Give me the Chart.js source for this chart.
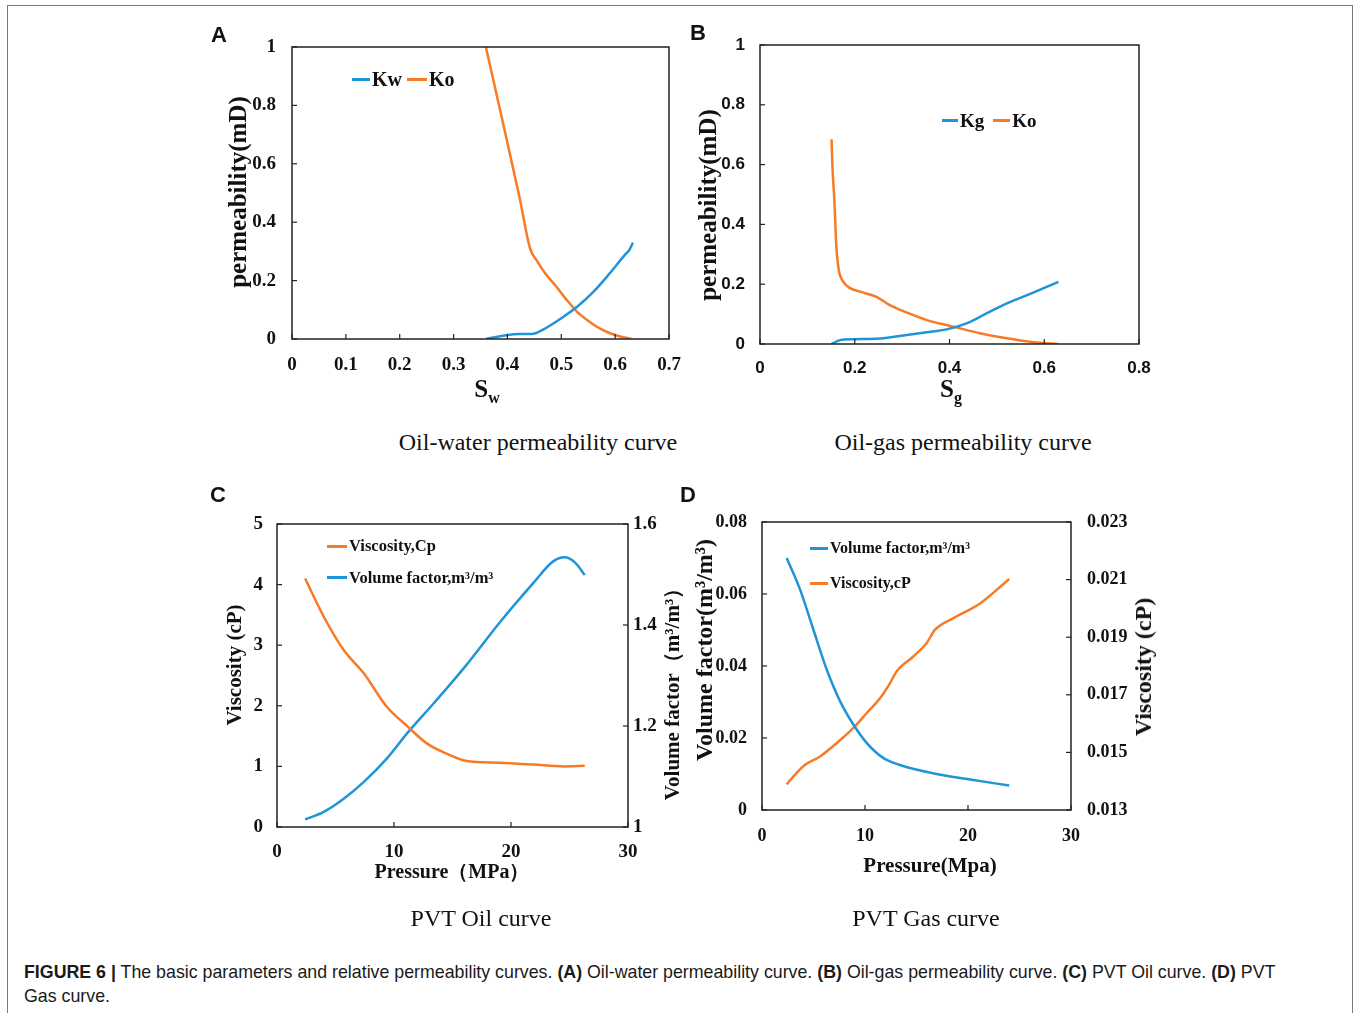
<!DOCTYPE html>
<html>
<head>
<meta charset="utf-8">
<script src="https://cdn.jsdelivr.net/npm/chart.js@4.4.1/dist/chart.umd.min.js"></script>
<style>
    body {
        margin: 0;
        width: 1356px;
        height: 1013px;
        background: #fff;
        position: relative;
        overflow: hidden;
        font-family: "Liberation Serif", serif;
        color: #111;
    }

    .frame {
        position: absolute;
        left: 7px;
        top: 5px;
        width: 1344px;
        height: 1100px;
        border: 1.5px solid #7a7a7a;
    }

    canvas {
        position: absolute;
    }

    .t {
        position: absolute;
        white-space: nowrap;
        line-height: 1;
        transform: translate(-50%, -50%);
    }

    .v {
        transform: translate(-50%, -50%) rotate(-90deg);
    }

    .bold {
        font-weight: bold;
    }

    .letter {
        font-family: "Liberation Sans", sans-serif;
        font-weight: bold;
        font-size: 22px;
    }

    .sub {
        font-size: 24px;
    }

    .legend {
        position: absolute;
        white-space: nowrap;
        font-weight: bold;
        line-height: 1;
    }

    .legend .item {
        display: flex;
        align-items: center;
    }

    .legend .sw {
        display: inline-block;
        height: 3px;
        margin-right: 2px;
    }

    .caption {
        position: absolute;
        left: 24px;
        top: 960px;
        font-family: "Liberation Sans", sans-serif;
        font-size: 17.8px;
        line-height: 24px;
        color: #1a1a1a;
        white-space: nowrap;
    }
</style>
</head>
<body>
<div class="frame"></div>

<canvas id="chart-a"></canvas>
<canvas id="chart-b"></canvas>
<canvas id="chart-c"></canvas>
<canvas id="chart-d"></canvas>

<div class="t letter" style="left:219px; top:35px">A</div>
<div class="t letter" style="left:698px; top:33px">B</div>
<div class="t letter" style="left:218px; top:495px">C</div>
<div class="t letter" style="left:688px; top:495px">D</div>

<div class="t v bold" style="left:237px; top:192px; font-size:25px">permeability(mD)</div>
<div class="t bold" style="left:487px; top:391px; font-size:25px">S<sub style="font-size:16px; vertical-align:-6px">w</sub></div>
<div class="t sub" style="left:538px; top:442px">Oil-water permeability curve</div>

<div class="t v bold" style="left:707px; top:205px; font-size:25px">permeability(mD)</div>
<div class="t bold" style="left:951px; top:391px; font-size:25px">S<sub style="font-size:16px; vertical-align:-6px">g</sub></div>
<div class="t sub" style="left:963px; top:442px">Oil-gas permeability curve</div>

<div class="t v bold" style="left:234px; top:665px; font-size:21px">Viscosity (cP)</div>
<div class="t v bold" style="left:672px; top:689px; font-size:21px">Volume factor（m³/m³）</div>
<div class="t bold" style="left:452px; top:871px; font-size:20px">Pressure（MPa）</div>
<div class="t sub" style="left:481px; top:918px">PVT Oil curve</div>

<div class="t v bold" style="left:704px; top:650px; font-size:24px">Volume factor(m³/m³)</div>
<div class="t v bold" style="left:1143px; top:667px; font-size:24px">Viscosity (cP)</div>
<div class="t bold" style="left:930px; top:865px; font-size:21px">Pressure(Mpa)</div>
<div class="t sub" style="left:926px; top:918px">PVT Gas curve</div>

<div class="caption"><b>FIGURE 6 |</b> The basic parameters and relative permeability curves. <b>(A)</b> Oil-water permeability curve. <b>(B)</b> Oil-gas permeability curve. <b>(C)</b> PVT Oil curve. <b>(D)</b> PVT<br>Gas curve.</div>

<script>
const BLUE = "#1f95d8";
const ORANGE = "#f77b26";

// A: oil-water relative permeability
const a_sw_kw = [0.36, 0.40, 0.423, 0.445, 0.467, 0.50, 0.53, 0.56, 0.59, 0.618, 0.627, 0.633];
const a_kw = [0, 0.014, 0.017, 0.017, 0.033, 0.071, 0.111, 0.162, 0.225, 0.288, 0.307, 0.33];
const a_sw_ko = [0.36, 0.399, 0.423, 0.442, 0.454, 0.47, 0.491, 0.51, 0.529, 0.548, 0.566, 0.585, 0.603, 0.62, 0.632];
const a_ko = [1.0, 0.68, 0.48, 0.31, 0.27, 0.225, 0.179, 0.134, 0.094, 0.065, 0.042, 0.024, 0.012, 0.004, 0];
const a_x_ticks = [0, 0.1, 0.2, 0.3, 0.4, 0.5, 0.6, 0.7];
const a_y_ticks = [0, 0.2, 0.4, 0.6, 0.8, 1];

// B: oil-gas relative permeability
const b_sg_kg = [0.151, 0.169, 0.197, 0.253, 0.31, 0.352, 0.394, 0.436, 0.479, 0.521, 0.577, 0.63];
const b_kg = [0, 0.013, 0.016, 0.018, 0.030, 0.039, 0.049, 0.069, 0.103, 0.136, 0.172, 0.208];
const b_sg_ko = [0.151, 0.153, 0.157, 0.161, 0.166, 0.175, 0.19, 0.211, 0.246, 0.274, 0.31, 0.352, 0.408, 0.464, 0.521, 0.577, 0.63];
const b_ko = [0.685, 0.59, 0.48, 0.33, 0.25, 0.21, 0.187, 0.175, 0.158, 0.13, 0.105, 0.08, 0.058, 0.036, 0.019, 0.006, 0];
const b_x_ticks = [0, 0.2, 0.4, 0.6, 0.8];
const b_y_ticks = [0, 0.2, 0.4, 0.6, 0.8, 1];

// C: PVT oil
const c_p_mu = [2.4, 4.0, 5.7, 7.4, 9.4, 11.1, 12.8, 14.5, 16.2, 19.0, 21.9, 24.5, 26.3];
const c_mu = [4.10, 3.47, 2.92, 2.54, 1.98, 1.67, 1.38, 1.21, 1.09, 1.06, 1.03, 1.00, 1.01];
const c_p_bo = [2.4, 4.0, 5.7, 7.4, 9.4, 11.1, 13.4, 16.2, 19.0, 21.9, 23.6, 24.6, 25.5, 26.3];
const c_bo = [1.015, 1.030, 1.056, 1.089, 1.136, 1.185, 1.245, 1.321, 1.404, 1.483, 1.526, 1.534, 1.523, 1.499];
const c_x_ticks = [0, 10, 20, 30];
const c_y_ticks = [0, 1, 2, 3, 4, 5];
const c_y2_ticks = [1, 1.2, 1.4, 1.6];

// D: PVT gas
const d_p_bg = [2.4, 3.7, 5.0, 6.3, 7.6, 8.9, 10.2, 11.8, 13.4, 16.6, 19.9, 24.0];
const d_bg = [0.070, 0.0612, 0.050, 0.0389, 0.0301, 0.0236, 0.0185, 0.0144, 0.0125, 0.0102, 0.0086, 0.0068];
const d_p_mu = [2.4, 3.35, 4.15, 5.6, 7.24, 8.85, 10.15, 11.45, 12.42, 13.07, 14.69, 15.99, 16.8, 18.58, 21.2, 24.0];
const d_mu = [0.01389, 0.01428, 0.01456, 0.01485, 0.01532, 0.01584, 0.01636, 0.01688, 0.0174, 0.01781, 0.01833, 0.0188, 0.01926, 0.01966, 0.02018, 0.02102];
const d_x_ticks = [0, 10, 20, 30];
const d_y_ticks = [0, 0.02, 0.04, 0.06, 0.08];
const d_y2_ticks = [0.013, 0.015, 0.017, 0.019, 0.021, 0.023];

const serif_ticks = {family: "Liberation Serif", weight: "bold", size: 19};
const serif_ticks_d = {family: "Liberation Serif", weight: "bold", size: 18};
const sans_ticks = {family: "Liberation Sans", weight: "bold", size: 17};

function zip(xs, ys) {
    return xs.map((x, i) => ({x: x, y: ys[i]}));
}

function line(label, xs, ys, color, axis) {
    return {
        label: label,
        data: zip(xs, ys),
        borderColor: color,
        backgroundColor: color,
        borderWidth: 2.5,
        pointRadius: 0,
        cubicInterpolationMode: "monotone",
        yAxisID: axis || "y"
    };
}

function axis(ticks, pos, font, pad) {
    return {
        type: "linear",
        position: pos,
        min: ticks[0],
        max: ticks[ticks.length - 1],
        grid: {display: false, drawTicks: false},
        border: {display: false},
        afterBuildTicks: s => { s.ticks = ticks.map(v => ({value: v})); },
        afterFit: s => {
            if (pos === "bottom") s.height = 60;
            else s.width = 100;
        },
        ticks: {
            font: font,
            color: "#111",
            padding: pad,
            autoSkip: false,
            maxRotation: 0,
            callback: v => String(v)
        }
    };
}

// box around the plot area, tick marks pointing inwards
const frame_plugin = {
    id: "frame",
    afterDatasetsDraw(chart) {
        const ctx = chart.ctx;
        const a = chart.chartArea;
        ctx.save();
        ctx.strokeStyle = "#222";
        ctx.lineWidth = 1.5;
        ctx.strokeRect(a.left, a.top, a.right - a.left, a.bottom - a.top);
        ctx.lineWidth = 1.2;
        for (const scale of Object.values(chart.scales)) {
            scale.ticks.forEach((t, i) => {
                const p = scale.getPixelForTick(i);
                ctx.beginPath();
                if (scale.isHorizontal()) {
                    ctx.moveTo(p, a.bottom);
                    ctx.lineTo(p, a.bottom - 5);
                } else if (scale.position === "left") {
                    ctx.moveTo(a.left, p);
                    ctx.lineTo(a.left + 5, p);
                } else {
                    ctx.moveTo(a.right, p);
                    ctx.lineTo(a.right - 5, p);
                }
                ctx.stroke();
            });
        }
        ctx.restore();
    }
};

function make_chart(id, area, datasets, scales, two_axes) {
    const [l, t, r, b] = area;
    const canvas = document.getElementById(id);
    canvas.width = (r - l) + 200;
    canvas.height = (b - t) + 90;
    canvas.style.left = (l - 100) + "px";
    canvas.style.top = (t - 30) + "px";

    return new Chart(canvas, {
        type: "line",
        data: {datasets: datasets},
        options: {
            responsive: false,
            animation: false,
            devicePixelRatio: 1,
            layout: {padding: {top: 30, left: 0, bottom: 0, right: two_axes ? 0 : 100}},
            plugins: {legend: {display: false}, tooltip: {enabled: false}},
            scales: scales
        },
        plugins: [frame_plugin]
    });
}

function make_legend(x, y, items, size, row, gap) {
    const box = document.createElement("div");
    box.className = "legend";
    box.style.left = x + "px";
    box.style.top = y + "px";
    box.style.fontSize = size + "px";
    box.style.display = "flex";
    box.style.flexDirection = row ? "row" : "column";
    box.style.gap = gap + "px";
    for (const it of items) {
        const item = document.createElement("div");
        item.className = "item";
        const sw = document.createElement("span");
        sw.className = "sw";
        sw.style.width = it.sw + "px";
        sw.style.background = it.color;
        const txt = document.createElement("span");
        txt.textContent = it.label;
        item.appendChild(sw);
        item.appendChild(txt);
        box.appendChild(item);
    }
    document.body.appendChild(box);
}

make_chart("chart-a", [292, 47, 669, 339], [
    line("Kw", a_sw_kw, a_kw, BLUE),
    line("Ko", a_sw_ko, a_ko, ORANGE)
], {
    x: axis(a_x_ticks, "bottom", serif_ticks, 15),
    y: axis(a_y_ticks, "left", serif_ticks, 16)
});

make_chart("chart-b", [760, 45, 1139, 344], [
    line("Kg", b_sg_kg, b_kg, BLUE),
    line("Ko", b_sg_ko, b_ko, ORANGE)
], {
    x: axis(b_x_ticks, "bottom", sans_ticks, 14),
    y: axis(b_y_ticks, "left", sans_ticks, 15)
});

make_chart("chart-c", [277, 524, 628, 827], [
    line("Viscosity,Cp", c_p_mu, c_mu, ORANGE, "y"),
    line("Volume factor,m³/m³", c_p_bo, c_bo, BLUE, "y1")
], {
    x: axis(c_x_ticks, "bottom", serif_ticks, 14),
    y: axis(c_y_ticks, "left", serif_ticks, 14),
    y1: axis(c_y2_ticks, "right", serif_ticks, 5)
}, true);

make_chart("chart-d", [762, 522, 1071, 810], [
    line("Volume factor,m³/m³", d_p_bg, d_bg, BLUE, "y"),
    line("Viscosity,cP", d_p_mu, d_mu, ORANGE, "y1")
], {
    x: axis(d_x_ticks, "bottom", serif_ticks_d, 16),
    y: axis(d_y_ticks, "left", serif_ticks_d, 15),
    y1: axis(d_y2_ticks, "right", serif_ticks_d, 16)
}, true);

make_legend(352, 69, [
    {label: "Kw", color: BLUE, sw: 18},
    {label: "Ko", color: ORANGE, sw: 20}
], 20, true, 5);

make_legend(942, 111, [
    {label: "Kg", color: BLUE, sw: 16},
    {label: "Ko", color: ORANGE, sw: 17}
], 19, true, 9);

make_legend(327, 538, [
    {label: "Viscosity,Cp", color: ORANGE, sw: 20},
    {label: "Volume factor,m³/m³", color: BLUE, sw: 20}
], 16.5, false, 15);

make_legend(810, 540, [
    {label: "Volume factor,m³/m³", color: BLUE, sw: 18},
    {label: "Viscosity,cP", color: ORANGE, sw: 18}
], 16, false, 19);
</script>
</body>
</html>
